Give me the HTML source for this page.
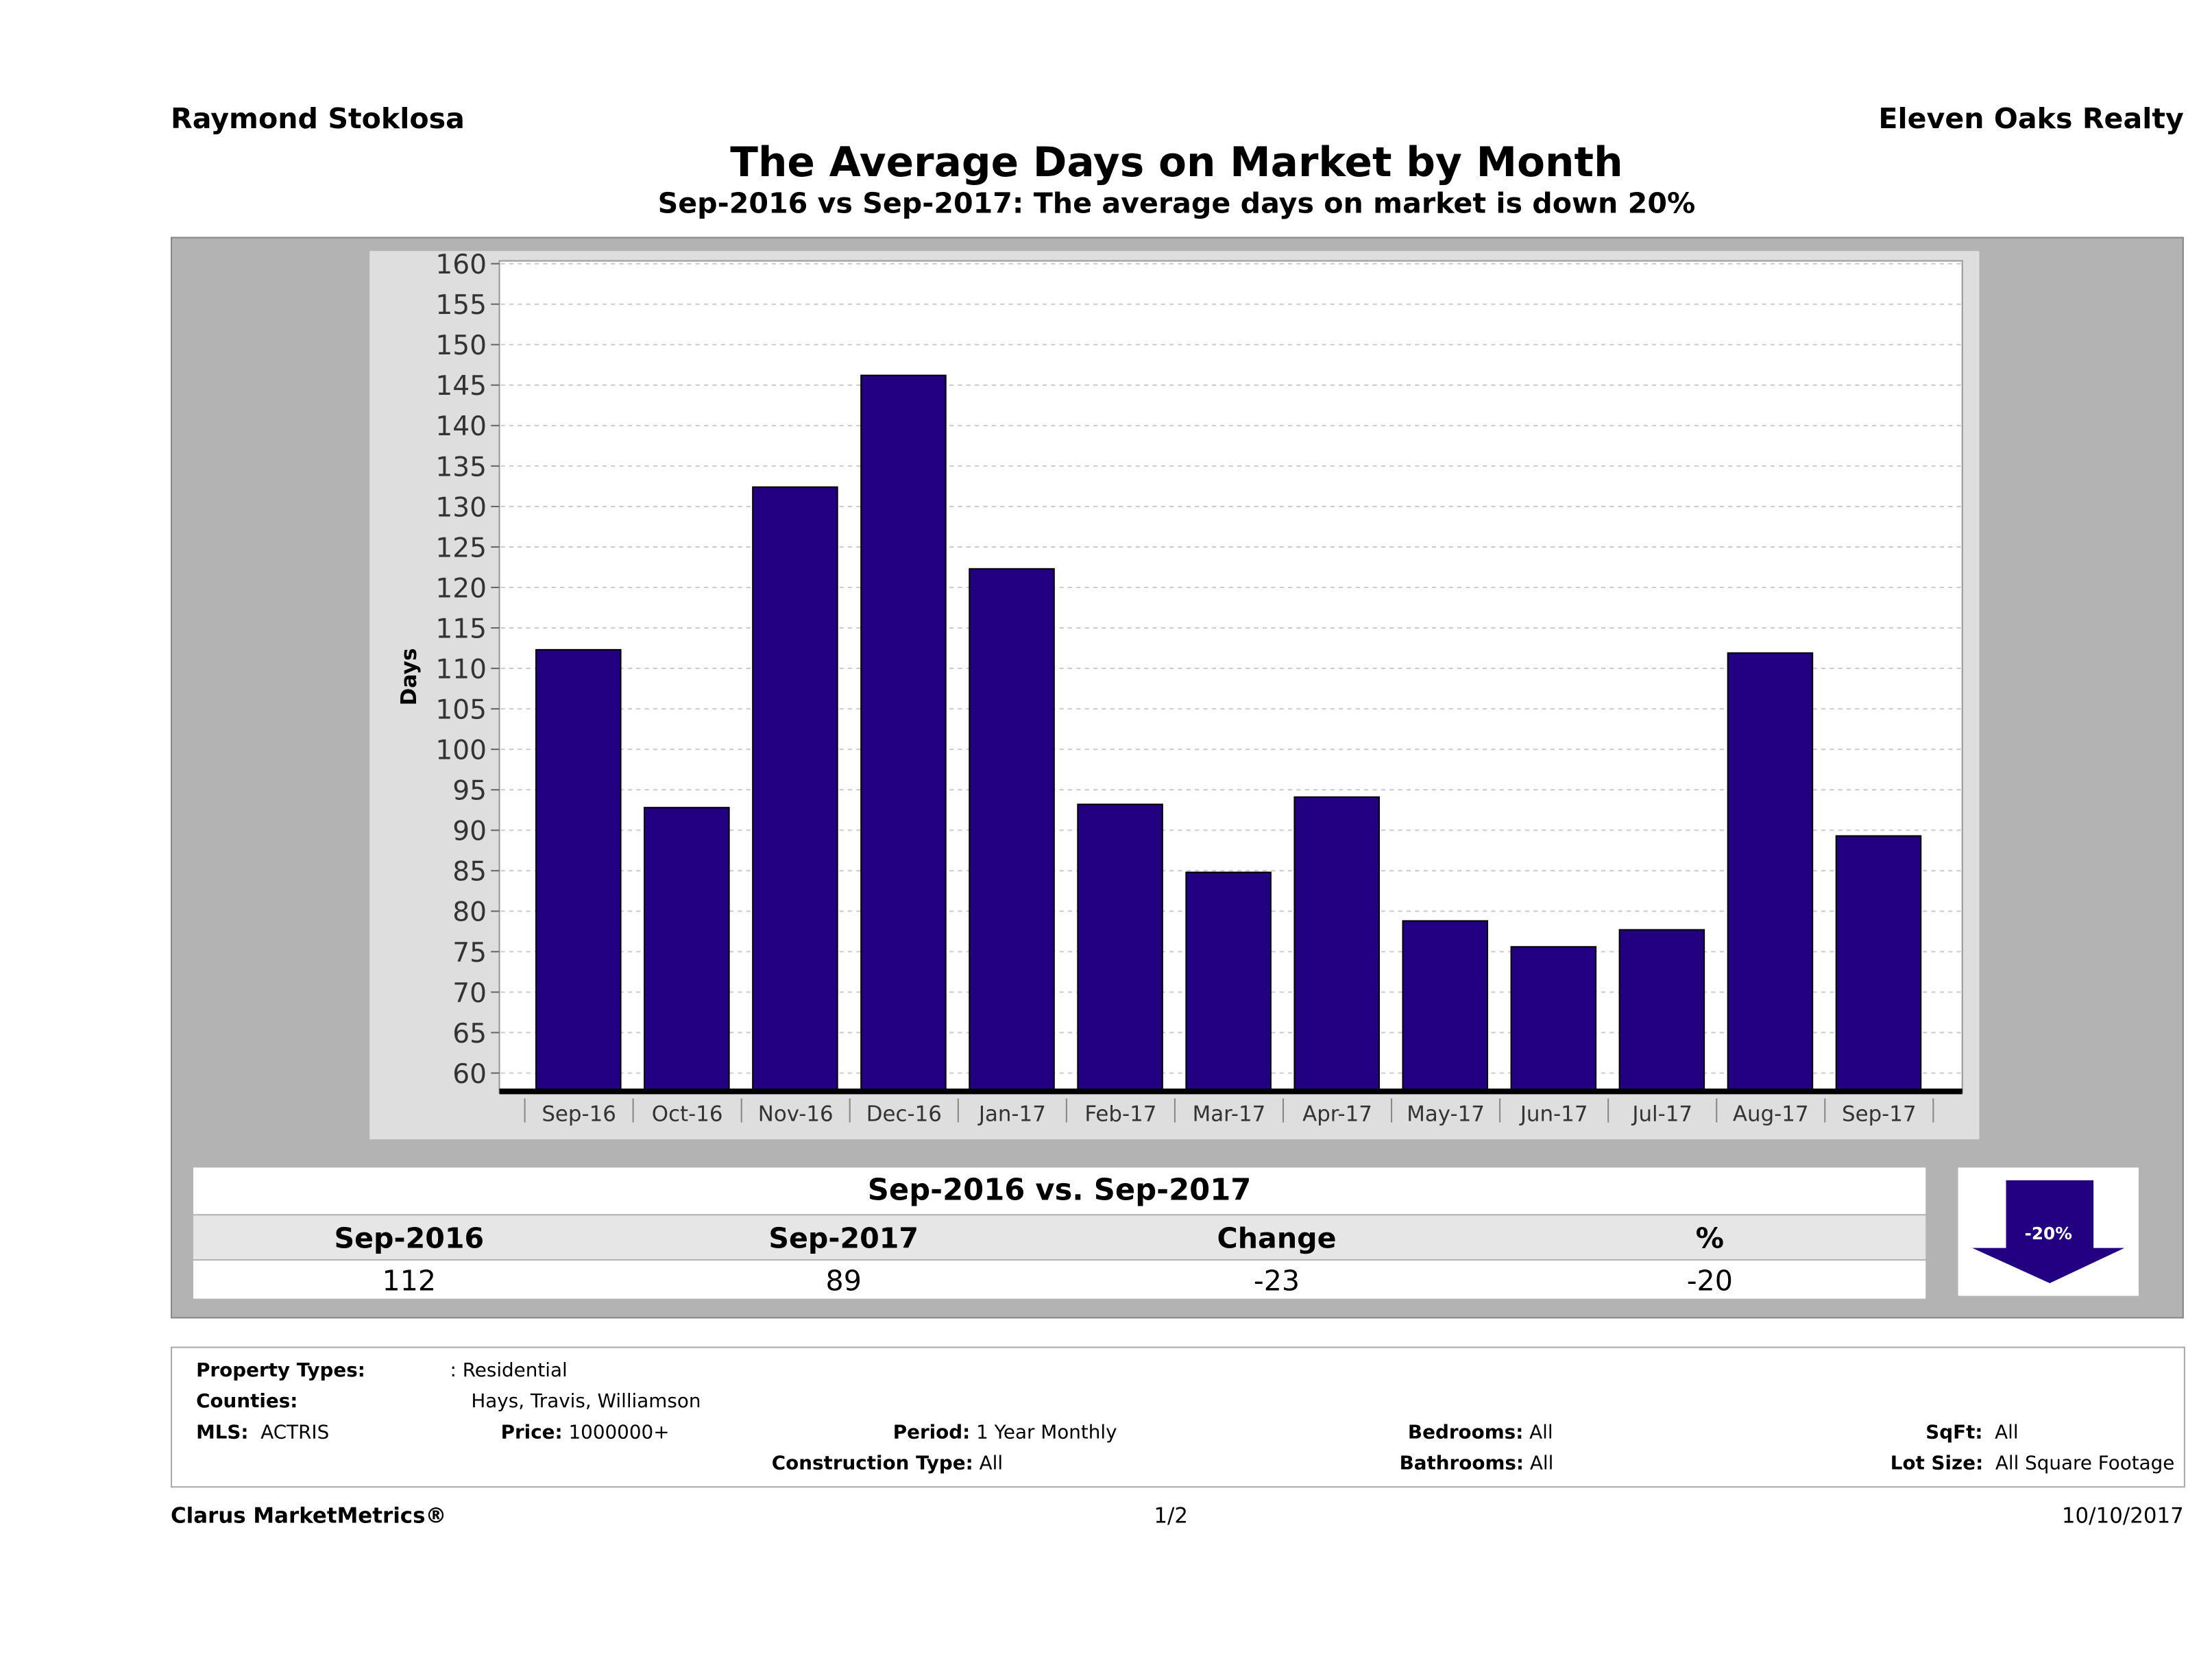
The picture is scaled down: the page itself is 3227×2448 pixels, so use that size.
<!DOCTYPE html>
<html><head><meta charset="utf-8">
<style>
html,body{margin:0;padding:0;background:#fff;width:3227px;height:2448px;overflow:hidden}
#root{position:absolute;left:0;top:0;width:1568px;height:1190px;transform:scale(2.05804,2.05714);transform-origin:0 0;font-family:"DejaVu Sans","Liberation Sans",sans-serif;color:#000}
.a{position:absolute;white-space:nowrap}
.b{font-weight:bold}
</style></head><body>
<div id="root">
<div class="a b" style="left:121px;top:72px;font-size:20px">Raymond Stoklosa</div>
<div class="a b" style="right:20px;top:72px;font-size:20px">Eleven Oaks Realty</div>
<div class="a b" style="left:0;width:1668px;text-align:center;top:98px;font-size:29px">The Average Days on Market by Month</div>
<div class="a b" style="left:0;width:1668px;text-align:center;top:132px;font-size:20px">Sep-2016 vs Sep-2017: The average days on market is down 20%</div>
<div class="a" style="left:121px;top:168px;width:1425px;height:765px;background:#b3b3b3;border:1px solid #888"></div>
<svg class="a" style="left:0;top:0" width="1568" height="1190" id="chart">
<rect x="262" y="178" width="1141" height="630" fill="#dedede"/>
<rect x="354" y="185" width="1037" height="590" fill="#fff" stroke="#999"/>
<text x="295" y="480" font-size="15" font-weight="bold" text-anchor="middle" transform="rotate(-90 295 480)" font-family="DejaVu Sans,sans-serif">Days</text>
</svg>
<div class="a" style="left:137px;top:828px;width:1228px;height:33px;background:#fff"></div>
<div class="a b" style="left:137px;width:1228px;text-align:center;top:832px;font-size:21px">Sep-2016 vs. Sep-2017</div>
<div class="a" style="left:137px;top:862px;width:1228px;height:31px;background:#e6e6e6"></div>
<div class="a" style="left:137px;top:894px;width:1228px;height:27px;background:#fff"></div>
<div class="a b" style="left:190px;width:200px;text-align:center;top:866px;font-size:20px">Sep-2016</div>
<div class="a b" style="left:498px;width:200px;text-align:center;top:866px;font-size:20px">Sep-2017</div>
<div class="a b" style="left:805px;width:200px;text-align:center;top:866px;font-size:20px">Change</div>
<div class="a b" style="left:1112px;width:200px;text-align:center;top:866px;font-size:20px">%</div>
<div class="a" style="left:190px;width:200px;text-align:center;top:896px;font-size:20px">112</div>
<div class="a" style="left:498px;width:200px;text-align:center;top:896px;font-size:20px">89</div>
<div class="a" style="left:805px;width:200px;text-align:center;top:896px;font-size:20px">-23</div>
<div class="a" style="left:1112px;width:200px;text-align:center;top:896px;font-size:20px">-20</div>
<div class="a" style="left:1388px;top:828px;width:128px;height:91px;background:#fff">
<svg width="128" height="91"><polygon points="34,9 96,9 96,57 118,57 65,82 10,57 34,57" fill="#230082"/>
<text x="64" y="51" fill="#fff" font-size="12" font-weight="bold" text-anchor="middle" font-family="DejaVu Sans,sans-serif">-20%</text></svg></div>
<div class="a" style="left:121px;top:955px;width:1426px;height:98px;border:1px solid #aaa;background:#fff;font-size:13.5px">
<div class="a b" style="left:17px;top:8px">Property Types:</div><div class="a" style="left:197px;top:8px">: Residential</div>
<div class="a b" style="left:17px;top:30px">Counties:</div><div class="a" style="left:212px;top:30px">Hays, Travis, Williamson</div>
<div class="a" style="left:17px;top:52px"><b>MLS:</b>&nbsp;&nbsp;ACTRIS</div>
<div class="a" style="left:233px;top:52px"><b>Price:</b> 1000000+</div>
<div class="a" style="left:511px;top:52px"><b>Period:</b> 1 Year Monthly</div>
<div class="a" style="left:425px;top:74px"><b>Construction Type:</b> All</div>
<div class="a" style="left:876px;top:52px"><b>Bedrooms:</b> All</div>
<div class="a" style="left:870px;top:74px"><b>Bathrooms:</b> All</div>
<div class="a" style="left:1243px;top:52px"><b>SqFt:</b>&nbsp; All</div>
<div class="a" style="left:1218px;top:74px"><b>Lot Size:</b>&nbsp; All Square Footage</div>
</div>
<div class="a b" style="left:121px;top:1066px;font-size:15px">Clarus MarketMetrics®</div>
<div class="a" style="left:780px;width:100px;text-align:center;top:1066px;font-size:15px">1/2</div>
<div class="a" style="right:20px;top:1066px;font-size:15px">10/10/2017</div>
</div>
<script>
const categories=["Sep-16","Oct-16","Nov-16","Dec-16","Jan-17","Feb-17","Mar-17","Apr-17","May-17","Jun-17","Jul-17","Aug-17","Sep-17"];
const daysOnMarket=[112.3,92.8,132.4,146.2,122.3,93.2,84.8,94.1,78.8,75.6,77.7,111.9,89.3];
const yTicks=[60,65,70,75,80,85,90,95,100,105,110,115,120,125,130,135,140,145,150,155,160];
const NS="http://www.w3.org/2000/svg";
const svg=document.getElementById('chart');
const y=v=>761-(v-60)*5.74;
const x0=372,step=76.8;
const x=i=>x0+i*step;
function mk(t,a){const e=document.createElementNS(NS,t);for(const k in a)e.setAttribute(k,a[k]);svg.appendChild(e);return e;}
yTicks.forEach(v=>{
 const g=mk('line',{x1:355,x2:1390,y1:y(v),y2:y(v),stroke:'#ccc','stroke-dasharray':'3,3'});
 
 
 mk('line',{x1:348,x2:354,y1:y(v),y2:y(v),stroke:'#666'});
 const t=mk('text',{x:345,y:y(v)+7,'font-size':19,'text-anchor':'end','font-family':'DejaVu Sans,sans-serif',fill:'#333'});
 t.textContent=v;
 
 
});
categories.forEach((c,i)=>{
 const r=mk('rect',{x:x(i)+8,y:y(daysOnMarket[i]),width:60,height:773-y(daysOnMarket[i]),fill:'#230082',stroke:'#000','stroke-width':1});
 
 
 mk('line',{x1:x(i),x2:x(i),y1:779,y2:796,stroke:'#888'});
 const t=mk('text',{x:x(i)+step/2,y:795,'font-size':15,'text-anchor':'middle','font-family':'DejaVu Sans,sans-serif',fill:'#333'});
 t.textContent=c;
 
 
});
mk('line',{x1:x(categories.length),x2:x(categories.length),y1:779,y2:796,stroke:'#888'});
const ax=mk('rect',{x:354,y:772,width:1037,height:4,fill:'#000'});


</script>
</body></html>
